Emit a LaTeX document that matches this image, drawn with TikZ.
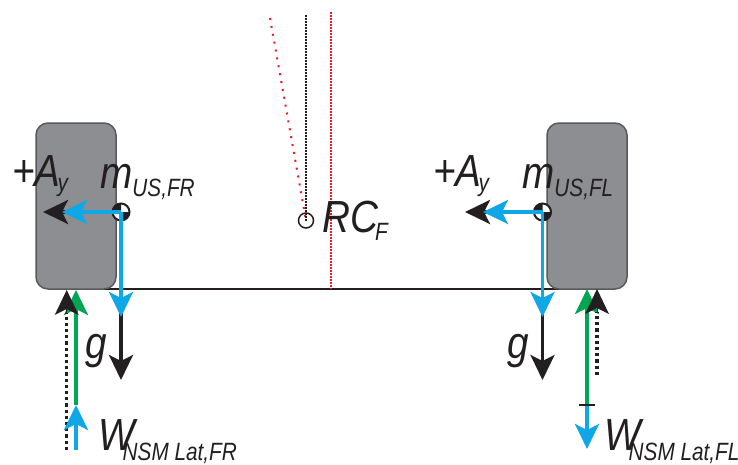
\documentclass[tikz,border=0pt]{standalone}
\usepackage{fontspec}
\usetikzlibrary{arrows.meta}
\newfontfamily\lab[FakeStretch=0.86]{Liberation Sans Italic}
\newfontfamily\labsub[FakeStretch=0.83]{Liberation Sans Italic}
\newcommand{\sbs}[3]{\kern#1\raisebox{-#2}{\labsub\fontsize{25}{25}\selectfont #3}}
\definecolor{wheelfill}{HTML}{8C8E91}
\definecolor{wheeledge}{HTML}{58595B}
\definecolor{fblue}{HTML}{0FA7E6}
\definecolor{fgreen}{HTML}{00A651}
\definecolor{ink}{HTML}{231F20}
\definecolor{dred}{HTML}{ED1C24}
\pgfdeclarelayer{under}
\pgfsetlayers{under,main}
\tikzset{
 x=1pt,y=-1pt,
 wheel/.style={draw=wheeledge,line width=1.5pt,fill=wheelfill,rounded corners=12pt,minimum width=80pt,minimum height=166pt,inner sep=0pt,outer sep=0pt},
 lbl/.style={anchor=base west,inner sep=0pt,text=ink,font=\lab\fontsize{45}{45}\selectfont},
 force/.style={line width=3.4pt,-{Stealth[length=25pt,width=24pt,inset=6pt]}},
 dotline/.style={line width=3.4pt,ink,dash pattern=on 3.2pt off 3pt},
 finedot/.style={line width=2pt,dash pattern=on 1.6pt off 1.4pt},
 sparsedot/.style={line width=2pt,dash pattern=on 2pt off 6pt},
 cg/.style={circle,draw=ink,line width=2pt,minimum size=17pt,inner sep=0pt,fill=white},
 rc/.style={circle,draw=ink,line width=1.5pt,minimum size=15pt,inner sep=0pt},
}
\begin{document}
\begin{tikzpicture}
\useasboundingbox (0,0) rectangle (738,464);
% points
\coordinate (rcc) at (306,220.5);
\coordinate (rdtop) at (270,18);
\coordinate (bdtop) at (306,15);
\coordinate (rvtop) at (331,12);
\coordinate (rvbot) at (331,289);
% wheels
\node[wheel] (wr) at (76,206) {};
\node[wheel] (wl) at (587,206) {};
% axle
\begin{pgfonlayer}{under}
\draw[ink,line width=1.6pt] (wr.south) -- (wl.south);
\end{pgfonlayer}
% centre dotted lines
\draw[dred,sparsedot] (rdtop) -- (rcc);
\draw[dred,finedot] (rvtop) -- (rvbot);
\draw[ink,finedot] (bdtop) -- (rcc);
\node[rc] (rcn) at (rcc) {};
% masses
\coordinate (mr) at (121,212);
\coordinate (ml) at (542.5,212);
% black under-arrows
\coordinate (arb) at (43,212);
\coordinate (alb) at (465,212);
\coordinate (grb) at (121,380);
\coordinate (glb) at (542.5,380);
\draw[force,ink] (mr) -- (arb);
\draw[force,ink] (ml) -- (alb);
\draw[force,ink] (mr) -- (grb);
\draw[force,ink] (ml) -- (glb);
% CG symbols
\foreach \c/\n in {mr/cgr,ml/cgl}{
 \node[cg] (\n) at (\c) {};
 \fill[ink] (\c) -- ++(-8.5,0) arc[start angle=180,end angle=90,radius=8.5pt] -- cycle;
 \fill[ink] (\c) -- ++(8.5,0) arc[start angle=0,end angle=-90,radius=8.5pt] -- cycle;
}
% blue arrows from masses
\coordinate (arc) at (62,212);
\coordinate (alc) at (483,212);
\coordinate (grc) at (121,317);
\coordinate (glc) at (542.5,317);
\draw[force,fblue] (mr) -- (arc);
\draw[force,fblue] (ml) -- (alc);
\draw[force,fblue] (mr) -- (grc);
\draw[force,fblue] (ml) -- (glc);
% FR wheel vertical loads
\coordinate (frb) at (66.7,450);
\coordinate (frbh) at (66.7,313);
\coordinate (frbt) at (66.7,290);
\coordinate (frg) at (76,405);
\coordinate (frgt) at (76,290);
\coordinate (frc) at (76,450);
\draw[force,fgreen] (frg) -- (frgt);
\draw[dotline] (frb) -- (frbh);
\draw[force,ink,line width=0pt] (frbh) -- (frbt);
\draw[force,fblue] (frc) -- (frg);
% FL wheel vertical loads
\coordinate (flb) at (597,375);
\coordinate (flbh) at (597,312);
\coordinate (flbt) at (597,289);
\coordinate (flg) at (587,405);
\coordinate (flgt) at (587,289);
\coordinate (flc) at (587,449);
\coordinate (flta) at (579,405);
\coordinate (fltb) at (595,405);
\draw[force,fgreen] (flg) -- (flgt);
\draw[dotline] (flb) -- (flbh);
\draw[force,ink,line width=0pt] (flbh) -- (flbt);
\draw[force,fblue] (flg) -- (flc);
\draw[ink,line width=1.6pt] (flta) -- (fltb);
% labels
\node[lbl] (ayr) at (12,186) {+A\sbs{-3pt}{5pt}{y}};
\node[lbl] (ayl) at (433,186) {+A\sbs{-3pt}{5pt}{y}};
\node[lbl] (mfr) at (100,196) {\raisebox{8pt}{m}\sbs{0pt}{0pt}{US,FR}};
\node[lbl] (mfl) at (522,196) {\raisebox{8pt}{m}\sbs{0pt}{0pt}{US,FL}};
\node[lbl] (rct) at (322,232) {RC\sbs{-3pt}{8pt}{F}};
\node[lbl] (gr) at (85,358) {g};
\node[lbl] (gl) at (507,358) {g};
\node[lbl] (wfr) at (98,450) {W\sbs{-12pt}{10pt}{NSM Lat,FR}};
\node[lbl] (wfl) at (604,450) {W\sbs{-12pt}{10pt}{NSM Lat,FL}};
\end{tikzpicture}
\end{document}
